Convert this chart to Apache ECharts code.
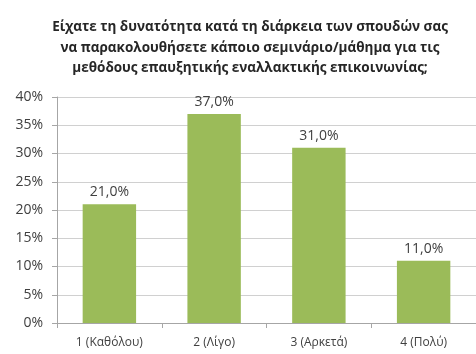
<!DOCTYPE html>
<html><head><meta charset="utf-8">
<script src="https://cdn.jsdelivr.net/npm/echarts@6/dist/echarts.min.js"></script>
<style>html,body{margin:0;padding:0;background:#fff}#c{width:476px;height:354px}</style>
</head><body><div id="c"></div>
<script>
const titleText = "Είχατε τη δυνατότητα κατά τη διάρκεια των σπουδών σας\nνα παρακολουθήσετε κάποιο σεμινάριο/μάθημα για τις\nμεθόδους επαυξητικής εναλλακτικής επικοινωνίας;";
const categories = ["1 (Καθόλου)", "2 (Λίγο)", "3 (Αρκετά)", "4 (Πολύ)"];
const values = [21.0, 37.0, 31.0, 11.0];
const chart = echarts.init(document.getElementById('c'), null, {renderer:'canvas'});
chart.setOption({
  animation:false,
  title:{text:titleText,left:245,textAlign:'center',top:12,
    textStyle:{fontFamily:'Open Sans',fontWeight:'bold',fontSize:13.5,color:'#262626',lineHeight:20.5}},
  grid:{left:57,right:-3,top:97,bottom:31,containLabel:false},
  xAxis:{type:'category',data:categories,
    axisLine:{lineStyle:{color:'#a6a6a6'}},
    axisTick:{show:true,length:5,lineStyle:{color:'#a6a6a6'}},
    axisLabel:{color:'#404040',fontFamily:'Open Sans',fontSize:12,margin:14}},
  yAxis:{type:'value',min:0,max:40,interval:5,
    axisLine:{show:true,lineStyle:{color:'#a6a6a6'}},
    axisTick:{show:true,length:5,lineStyle:{color:'#a6a6a6'}},
    splitLine:{lineStyle:{color:'#d0d0d0'}},
    axisLabel:{color:'#404040',fontFamily:'Open Sans',fontSize:14,margin:14,formatter:'{value}%'}},
  series:[{type:'bar',data:values,barWidth:'51%',
    itemStyle:{color:'#9bbb59'},
    label:{show:true,position:'top',distance:5,color:'#404040',fontFamily:'Open Sans',fontSize:14,
      formatter:p=>p.value.toFixed(1).replace('.',',')+'%'}}]
});
</script></body></html>
